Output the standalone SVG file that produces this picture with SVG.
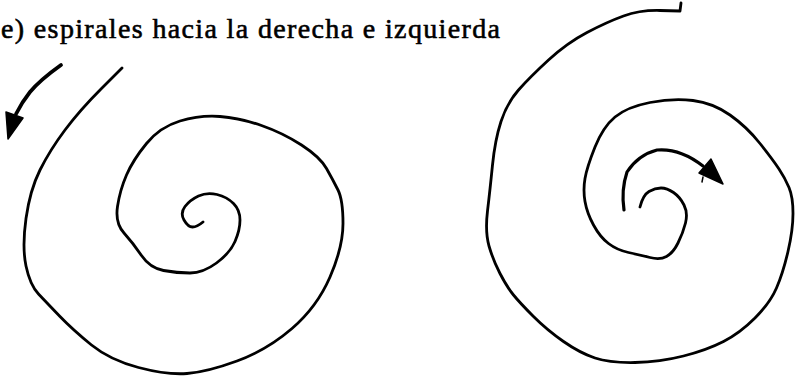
<svg xmlns="http://www.w3.org/2000/svg" width="796" height="378" viewBox="0 0 796 378">
<style>
.sp{fill:none;stroke:#000;stroke-width:2.8;stroke-linecap:round;stroke-linejoin:round}
.ar{fill:none;stroke:#000;stroke-width:3.8;stroke-linecap:round;stroke-linejoin:round}
.hd{fill:#000;stroke:#000;stroke-width:1.5;stroke-linejoin:round}
.t{font-size:28px;fill:#000;stroke:#000;stroke-width:0.6}
</style>
<rect width="796" height="378" fill="#fff"/>
<text class="t" font-family="'Liberation Serif', 'Times New Roman', serif" x="1" y="38" textLength="499" lengthAdjust="spacing">e)  espirales hacia la derecha e izquierda</text>
<g id="spiral-left">
<path class="sp" d="M122,68 L101,89 Q80,110 65,130 Q50,150 40,170 Q30,190 26,218.5 Q22,247 26,266 Q30,285 38.5,294 Q47,303 60,316.5 Q73,330 91.5,345 Q110,360 138.5,367.5 Q167,375 187,373.5 Q207,372 237,361 Q267,350 292,328.5 Q317,307 330,277 Q343,247 343,223.5 Q343,200 338,190 Q333,180 326.5,168.5 Q320,157 301.5,145 Q283,133 261.5,125.5 Q240,118 220,116.5 Q200,115 180,121 Q160,127 146.5,143.5 Q133,160 126.5,175 Q120,190 117.5,206.5 Q115,223 124,233 Q133,243 141.5,255.5 Q150,268 163.5,270.5 Q177,273 190,273 Q203,273 216.5,263 Q230,253 235,241.5 Q240,230 240,220 Q240,210 233.5,203.5 Q227,197 217,194.5 Q207,192 198.5,196 Q190,200 185,206.5 Q180,213 184,220 Q188,227 192.5,227 Q197,227 203,222"/>
</g>
<g id="spiral-right">
<path class="sp" d="M681,3 L680,11 L660,10.5 Q640,10 623.5,16 Q607,22 587,32.5 Q567,43 548.5,60 Q530,77 518.5,90 Q507,103 501,121.5 Q495,140 492.5,165 Q490,190 487.5,211 Q485,232 489,246 Q493,260 500,273.5 Q507,287 513.5,295 Q520,303 533.5,316.5 Q547,330 563.5,341.5 Q580,353 595,358 Q610,363 635,362.5 Q660,362 683.5,356 Q707,350 723.5,341.5 Q740,333 755,318 Q770,303 776.5,288 Q783,273 788,251.5 Q793,230 793,213.5 Q793,197 789,187.5 Q785,178 779,169 Q773,160 760,143.5 Q747,127 730,115 Q713,103 693,100.5 Q673,98 650,102.5 Q627,107 615,117 Q603,127 595,147 Q587,167 585,178.5 Q583,190 585,201.5 Q587,213 593.5,225 Q600,237 608.5,243.5 Q617,250 628.5,252.5 Q640,255 650,257.5 Q660,260 666.5,256.5 Q673,253 678,243 Q683,233 685.5,223 Q688,213 684,205 Q680,197 673.5,192.5 Q667,188 661,188 Q655,188 649,191.5 Q643,195 640,207"/>
</g>
<g id="connectors">
<path class="ar" d="M61,65 Q40,80 30,92 Q22,102 16,114"/>
<polygon class="hd" points="6,112 23,118 8,139"/>
<path class="ar" style="stroke-width:3.2" d="M624,210 Q621,190 627,172 Q638,155 657,150 Q680,148 703,166"/>
<polygon class="hd" points="711,159 699,173 723,184"/>
<path class="sp" style="stroke-width:1.5" d="M703,177 L702,182"/>
</g>
</svg>
